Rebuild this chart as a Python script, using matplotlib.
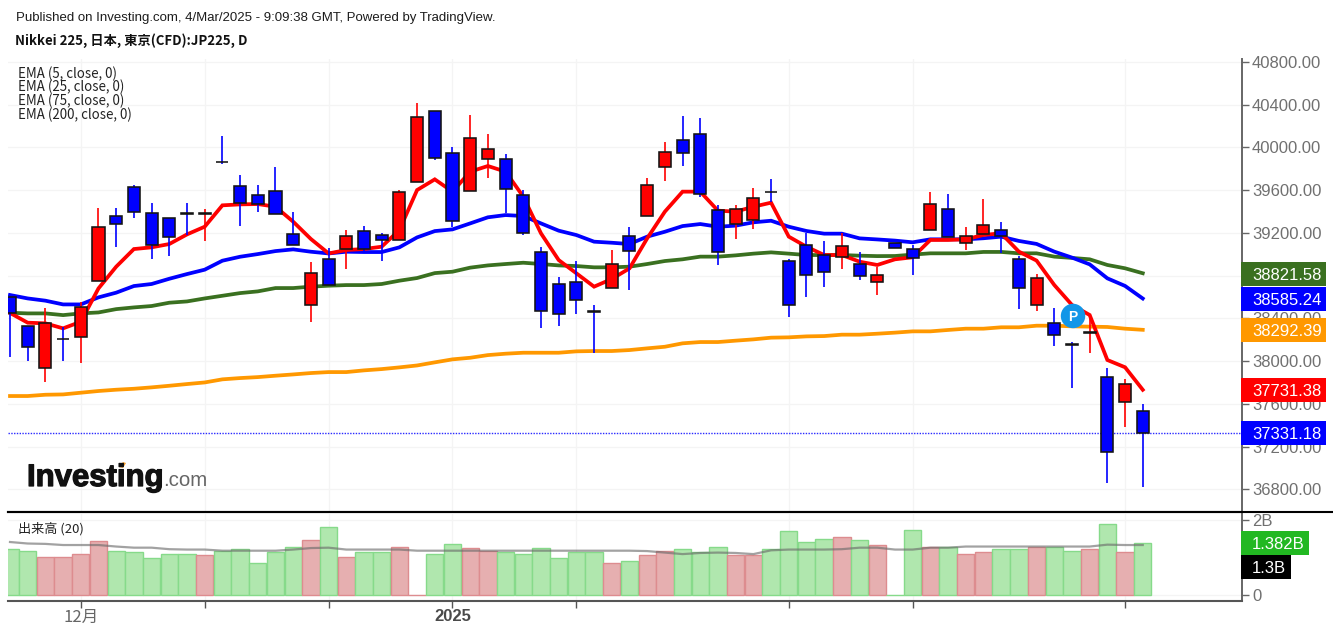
import matplotlib
matplotlib.use("Agg")
import matplotlib.pyplot as plt
import matplotlib.patheffects as pe
from matplotlib.patches import Rectangle, Polygon
from matplotlib.transforms import blended_transform_factory as blend

# ---------- data ----------
opens = [38596,38331,37938,38206,38221,38752,39357,39625,39382,39341,39385,39375,39866,39637,39553,39594,39188,
         38527,38951,39045,39213,39176,39132,39678,40339,39947,39594,39887,39887,39554,39017,38724,38736,38466,
         38680,39173,39354,39819,40071,40127,39410,39285,39316,39586,38933,39089,38992,38976,38905,38739,39105,
         39046,39227,39426,39102,39186,39230,38952,38525,38360,38158,38262,37854,37614,37536]
highs = [38620,38331,38493,38321,38555,39428,39428,39647,39475,39341,39475,39419,40105,39740,39647,39812,39391,
         38926,39054,39226,39263,39195,39600,40411,40339,40006,40302,40121,39934,39600,39064,38786,38939,38521,
         39039,39251,39713,40049,40293,40271,39460,39460,39616,39700,38952,39201,39123,39201,39023,38883,39105,
         39086,39585,39560,39252,39517,39305,38983,38812,38494,38182,38416,37932,37829,37595]
lows = [38034,38003,37807,38003,37978,38752,39070,39335,38958,38986,39179,39126,39840,39266,39391,39372,39088,
        38368,38708,38858,39029,38939,39132,39678,39881,39251,39594,39716,39388,39182,38312,38328,38437,38072,
        38680,38665,39354,39688,39828,39532,38902,39139,39238,39491,38409,38602,38690,38858,38758,38621,39061,
        38802,39227,39158,39039,39186,39014,38484,38466,38144,37751,38073,36856,37386,36825]
closes = [38446,38134,38359,38202,38508,39257,39285,39397,39088,39157,39375,39385,39858,39482,39469,39372,39088,
          38820,38708,39173,39045,39129,39578,40283,39903,39313,40084,39987,39607,39201,38471,38443,38568,38458,
          38905,39033,39650,39959,39943,39566,39017,39426,39522,39578,38527,38808,38836,39073,38792,38808,39061,
          38961,39470,39158,39170,39273,39174,38681,38781,38247,38150,38270,37149,37786,37331.18]
ema5 = [38450,38359,38353,38306,38368,38680,38883,39048,39064,39095,39185,39257,39457,39466,39469,39444,39304,
        39142,39007,39039,39048,39070,39226,39600,39700,39585,39772,39825,39772,39538,39195,38945,38821,38696,
        38768,38867,39148,39398,39585,39585,39407,39398,39444,39482,39164,39070,38992,38992,38930,38899,38952,
        38971,39133,39133,39139,39180,39195,39024,38940,38712,38525,38431,38010,37942,37731.38]
ema25 = [38618,38586,38565,38530,38530,38596,38640,38702,38721,38770,38814,38855,38939,38976,39001,39029,39045,
         39023,39007,39023,39020,39020,39064,39157,39216,39232,39288,39345,39366,39357,39288,39220,39179,39117,
         39107,39095,39164,39210,39263,39282,39257,39267,39298,39313,39257,39217,39192,39192,39148,39138,39127,
         39111,39139,39139,39139,39149,39164,39124,39096,39024,38968,38905,38774,38703,38585.24]
ema75 = [38452,38446,38446,38430,38446,38455,38486,38502,38515,38546,38558,38586,38611,38636,38652,38683,38683,
         38696,38705,38711,38711,38721,38752,38777,38823,38836,38874,38895,38908,38920,38908,38895,38889,38877,
         38877,38883,38908,38936,38952,38977,38977,38989,39005,39017,39005,38992,38992,38992,38986,38982,38983,
         38996,39008,39008,39008,39021,39021,39008,39008,38977,38965,38952,38899,38868,38821.58]
ema200 = [37673,37673,37685,37688,37704,37720,37732,37741,37754,37769,37785,37800,37829,37841,37850,37863,37875,
          37888,37897,37897,37913,37925,37941,37959,37988,38016,38031,38056,38069,38078,38078,38078,38091,38094,
          38094,38103,38119,38134,38166,38178,38178,38191,38203,38219,38222,38231,38234,38247,38247,38256,38266,
          38278,38278,38291,38303,38303,38316,38316,38331,38331,38325,38322,38319,38303,38292.39]
volume = [1.22,1.18,1.02,1.02,1.10,1.43,1.18,1.14,0.98,1.10,1.10,1.06,1.18,1.22,0.86,1.14,1.29,1.46,1.81,1.02,
          1.14,1.14,1.29,0.01,1.10,1.37,1.26,1.18,1.14,1.10,1.26,0.98,1.14,1.14,0.86,0.90,1.06,1.18,1.22,1.14,
          1.29,1.06,1.06,1.22,1.70,1.42,1.50,1.54,1.46,1.34,0.01,1.74,1.29,1.29,1.10,1.14,1.22,1.22,1.29,1.29,
          1.18,1.22,1.89,1.14,1.382]
volume_red = [0,0,1,1,1,1,0,0,0,0,0,1,0,0,0,0,0,1,0,1,0,0,1,1,0,0,1,1,0,0,0,0,0,0,1,0,1,1,0,0,0,1,1,0,0,0,0,1,0,1,
              0,0,1,0,1,1,0,0,1,0,0,1,0,1,0]
volume_ma = [1.41,1.37,1.36,1.33,1.33,1.33,1.29,1.26,1.26,1.22,1.21,1.21,1.18,1.18,1.18,1.18,1.21,1.25,1.26,1.21,
             1.21,1.21,1.21,1.18,1.18,1.18,1.18,1.18,1.18,1.18,1.18,1.18,1.18,1.18,1.18,1.18,1.17,1.13,1.09,1.12,
             1.13,1.12,1.09,1.19,1.21,1.21,1.21,1.22,1.26,1.26,1.21,1.21,1.26,1.26,1.29,1.29,1.29,1.29,1.29,1.29,
             1.29,1.29,1.34,1.33,1.33]
price_ticks = [36800,37200,37600,38000,38400,38800,39200,39600,40000,40400,40800]
date_tick_pos = [4,11,18,25,32,44,51,63]
date_tick_labels = ["12月","","","2025","","","",""]
ema_labels = ["EMA (5, close, 0)","EMA (25, close, 0)","EMA (75, close, 0)","EMA (200, close, 0)"]
last_labels = [(38821.58,"#3a7020"),(38585.24,"#0000ff"),(38292.39,"#ff9800"),(37731.38,"#ff0000"),(37331.18,"#0000ff")]

# ---------- figure layout ----------
W, H = 1333, 634
fig = plt.figure(figsize=(W/100, H/100), dpi=100, facecolor="white")
L, R = 8, 1241.7
def axbox(top, bot):
    return [L/W, 1-bot/H, (R-L)/W, (bot-top)/H]
ax = fig.add_axes(axbox(59, 512))
av = fig.add_axes(axbox(512, 601), sharex=ax)
xs = list(range(len(opens)))
ax.set_xlim(-0.113, 69.59)
ax.set_ylim(36588, 40826)
av.set_ylim(-0.151, 2.204)

SANS = ["Liberation Sans", "DejaVu Sans"]
CJK = ["Noto Sans CJK JP", "DejaVu Sans"]
TICKC = "#707070"
FS = 12.0

for a in (ax, av):
    a.set_facecolor("none")
    a.grid(True, color="#f4f4f4", lw=0.9)
    a.set_axisbelow(True)
    for s in ("top", "left"):
        a.spines[s].set_visible(False)
    a.spines["right"].set_color("#666666")
    a.spines["right"].set_linewidth(1.4)
    a.yaxis.tick_right()

# ---------- price panel ----------
ax.spines["bottom"].set_color("#000000")
ax.spines["bottom"].set_linewidth(1.5)
ax.set_yticks(price_ticks)
ax.set_yticklabels([f"{v:.2f}" for v in price_ticks], family=SANS, fontsize=FS, color=TICKC)
ax.tick_params(axis="y", length=5, width=1, color="#666666", pad=2.5)
ax.set_xticks(date_tick_pos)
ax.tick_params(axis="x", length=0, labelbottom=False)

for vals, col in ((ema200, "#ff9800"), (ema75, "#3a7020"), (ema25, "#0000ff"), (ema5, "#ff0000")):
    ax.plot(xs, vals, color=col, lw=2.7, solid_joinstyle="miter", zorder=3)

ax.axhline(closes[-1], color="#2a2aff", lw=1.0, ls=(0, (1, 1)), zorder=2.8)

for x, o, h, l, c in zip(xs, opens, highs, lows, closes):
    col = "#ff0000" if c > o else "#0000ff"
    ax.vlines(x, l, h, color=col, lw=1.2, zorder=4)
    ax.bar(x, abs(c-o), bottom=min(o, c), width=0.68, color=col, edgecolor="#141414", linewidth=1.15, zorder=5)

ax.scatter([60.06], [38422], s=310, color="#1296e8", edgecolor="none", zorder=7, clip_on=False)
ax.text(60.06, 38422, "P", color="white", fontsize=10, fontweight="bold", family=SANS,
        ha="center", va="center_baseline", zorder=8)

tr = blend(ax.transAxes, ax.transData)
for val, col in last_labels:
    ax.add_patch(Rectangle((0.9995, val-118), 0.0690, 225, transform=tr, color=col, lw=0, clip_on=False, zorder=9))
    ax.text((1252-L)/(R-L), val-5, f"{val:.2f}", transform=tr, color="white", family=SANS, fontsize=FS,
            ha="left", va="center_baseline", clip_on=False, zorder=10)

# ---------- volume panel ----------
av.spines["bottom"].set_color("#555555")
av.spines["bottom"].set_linewidth(1.5)
av.set_yticks([0, 2])
av.set_yticklabels(["0", "2B"], family=SANS, fontsize=FS, color=TICKC)
av.tick_params(axis="y", length=5, width=1, color="#666666", pad=2.5)
av.set_xticks(date_tick_pos)
labs = av.set_xticklabels(date_tick_labels, fontsize=12, color="#666666", family=CJK)
labs[3].set_family(SANS)
labs[3].set_fontweight("bold")
labs[3].set_color("#4a4a4a")
labs[3].set_fontsize(12)
av.tick_params(axis="x", length=5, width=1, color="#555555", pad=1)
ax.tick_params(axis="x", which="both", labelbottom=False)

face = ["#e6afb0" if r else "#b0e7ae" for r in volume_red]
edge = ["#dd8c8f" if r else "#86da8a" for r in volume_red]
av.bar(xs, volume, width=0.98, color=face, edgecolor=edge, linewidth=1.0, zorder=2)
av.plot(xs, volume_ma, color="#6a6a6a", lw=1.6, alpha=0.62, zorder=3)

trv = blend(av.transAxes, av.transData)
vx = (1252-L)/(R-L)
px = 1/37.8  # one screen pixel in volume-panel units
av.add_patch(Rectangle((0.9995, 1.382-12*px), (1309-1241)/(R-L), 24*px, transform=trv, color="#22b822", lw=0, clip_on=False, zorder=9))
av.text(vx, 1.382, "1.382B", transform=trv, color="white", family=SANS, fontsize=FS, ha="left",
        va="center_baseline", clip_on=False, zorder=10)
av.add_patch(Rectangle((0.9995, 0.75-12*px), (1291-1241)/(R-L), 24*px, transform=trv, color="#000000", lw=0, clip_on=False, zorder=9))
av.text(vx, 0.75, "1.3B", transform=trv, color="white", family=SANS, fontsize=FS, ha="left",
        va="center_baseline", clip_on=False, zorder=10)

# divider runs on to the edge of the image
fig.add_artist(plt.Line2D([L/W, 1], [1-512/H]*2, color="black", lw=1.5))

# ---------- texts ----------
def ftext(x, y, s, **kw):
    return fig.text(x/W, 1-y/H, s, va="center", ha="left", **kw)

ftext(16, 18.5, "Published on Investing.com, 4/Mar/2025 - 9:09:38 GMT, Powered by TradingView.",
      family=SANS, fontsize=9.55, color="#1c1c1c")
ftext(15, 41, "Nikkei 225, 日本, 東京(CFD):JP225, D", family=CJK, fontsize=9.5, fontweight="bold", color="#111111")
for y, s in zip((74, 87, 101, 115), ema_labels):
    ftext(18, y, s, family=CJK, fontsize=9.55, color="#222222")
ftext(18, 529, "出来高 (20)", family=CJK, fontsize=9.45, color="#222222")

# ---------- logo ----------
ftext(27, 478, "Investing", family=SANS, fontsize=22.4, fontweight="bold", color="#111111",
      path_effects=[pe.withStroke(linewidth=0.9, foreground="#111111")])
ftext(163, 480.5, ".com", family=SANS, fontsize=14.8, color="#666666")
fig.add_artist(Polygon([[119/W, 1-467/H], [123/W, 1-462/H], [126/W, 1-463/H], [123/W, 1-468/H]],
                       closed=True, color="#f39c2a", lw=0, transform=fig.transFigure))

fig.savefig("out.png", dpi=100, facecolor="white")
